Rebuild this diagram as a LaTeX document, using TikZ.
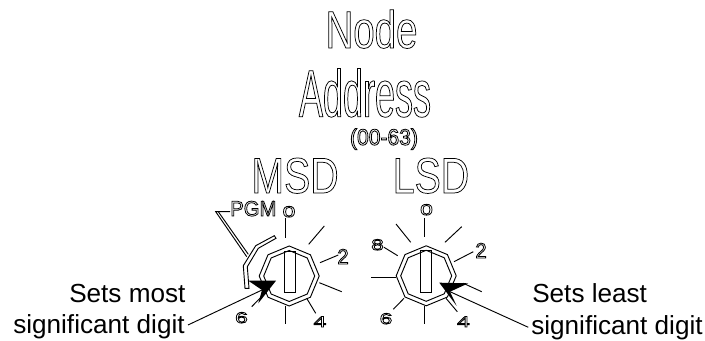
\documentclass[tikz,border=0pt]{standalone}
\usepackage{fontspec}
\setmainfont{Liberation Sans}
\newfontfamily\nodefont[FakeStretch=0.73]{Liberation Sans}
\newfontfamily\addrfont[FakeStretch=0.54]{Liberation Sans}
\newfontfamily\msdfont[FakeStretch=0.78]{Liberation Sans}
\newfontfamily\rangefont[FakeStretch=0.93]{Liberation Sans}
\newfontfamily\widefont[FakeStretch=1.5]{Liberation Sans}
\newfontfamily\tallfont[FakeStretch=0.95]{Liberation Sans}
\newcommand{\outlined}[1]{\special{pdf:code 1 Tr 0.55 w}#1\special{pdf:code 0 Tr}}
\newcommand{\outlinedthin}[1]{\special{pdf:code 1 Tr 0.6 w}#1\special{pdf:code 0 Tr}}
\tikzset{
  px/.style={x=0.75pt,y=-0.75pt},
  txt/.style={inner sep=0,anchor=base},
  nodetitle/.style={txt,font=\nodefont\fontsize{39.5}{39.5}\selectfont},
  addrtitle/.style={txt,font=\addrfont\fontsize{50}{50}\selectfont},
  msdtitle/.style={txt,font=\msdfont\fontsize{37.7}{37.7}\selectfont},
  rangetext/.style={txt,font=\rangefont\fontsize{17}{17}\selectfont},
  caption/.style={inner sep=0,anchor=base west,font=\fontsize{19.6}{19.6}\selectfont},
  pgmlabel/.style={inner sep=0,anchor=base west,font=\tallfont\fontsize{16}{16}\selectfont},
  digitwide/.style={txt,font=\widefont\fontsize{11.5}{11.5}\selectfont},
  digittall/.style={txt,font=\tallfont\fontsize{16}{16}\selectfont},
  tickline/.style={draw,line width=0.7pt},
  ring/.style={draw,line width=0.7pt},
  lead/.style={draw,line width=0.7pt},
  dart/.style={fill=black,draw=none}
}
\begin{document}
\begin{tikzpicture}[px,line join=miter]
\path[use as bounding box] (0,0) rectangle (705,341);
\fill[white] (0,0) rectangle (705,341);
% titles
\node[nodetitle] (tnode) at (371.5,48) {\outlined{Node}};
\node[addrtitle] (taddr) at (365,116.7) {\outlined{Address}};
\node[rangetext] (trange) at (384,145) {\outlinedthin{(00-63)}};
\node[msdtitle] (tmsd) at (295,193) {\outlined{MSD}};
\node[msdtitle] (tlsd) at (431,193) {\outlined{LSD}};
% PGM
\draw[ring] (245,288.3) -- (243.3,265.7) -- (255.7,245.7) -- (274.3,235.7) -- (276,238.3) -- (258.3,248.3) -- (247.3,266.7) -- (249,288.3) -- cycle;
\node[pgmlabel] (pgm) at (230,216) {\outlinedthin{PGM}};
\coordinate (pa) at (215.7,211.7);
\coordinate (pb) at (218.3,211.7);
\coordinate (pe) at (230,211.7);
\coordinate (pc) at (246.7,256.7);
\coordinate (pd) at (248.3,254.3);
\draw[lead] (pe) -- (pa) -- (pc);
\draw[lead] (pb) -- (pd);
% dial rings
\foreach \cx/\cy in {289.2/276,426.2/275.8}{
  \begin{scope}[shift={(\cx,\cy)}]
    \foreach \r in {30,25.5}{
      \draw[ring] (0:\r) -- (45:\r) -- (90:\r) -- (135:\r) -- (180:\r) -- (225:\r) -- (270:\r) -- (315:\r) -- cycle;
    }
  \end{scope}
}
% slots
\draw[ring] (284,251.5) rectangle (295,292);
\draw[ring] (420,250.5) rectangle (431.5,292);
% left ticks
\draw[tickline] (285,218.3) -- (285,237.7);
\draw[tickline] (308.7,244.3) -- (324.3,226);
\draw[tickline] (320,262.7) -- (338.3,255);
\draw[tickline] (319.3,282.7) -- (341.7,291.7);
\draw[tickline] (306.7,298.3) -- (315.7,313.3);
\draw[tickline] (285,305.7) -- (285,324.3);
\draw[tickline] (267,291) -- (251.7,306.7);
% right ticks
\draw[tickline] (424.7,218.3) -- (424.7,236.7);
\draw[tickline] (445,242.3) -- (461.7,226.7);
\draw[tickline] (454,261.7) -- (473.3,251.7);
\draw[tickline] (463.3,283.3) -- (481.7,291.7);
\draw[tickline] (446,298.3) -- (457.3,311.7);
\draw[tickline] (424.7,306) -- (424.7,324.3);
\draw[tickline] (404,298.3) -- (393.3,309.3);
\draw[tickline] (395.7,277) -- (371,277);
\draw[tickline] (397.7,255.7) -- (384,247.3);
\draw[tickline] (410.7,242.3) -- (396,224);
% digits
\node[digitwide] (l0) at (289,217) {\outlinedthin{0}};
\node[digittall] (l2) at (343,264) {\outlinedthin{2}};
\node[digitwide] (l4) at (320,327) {\outlinedthin{4}};
\node[digitwide] (l6) at (241.5,323) {\outlinedthin{6}};
\node[digitwide] (r0) at (426.5,215) {\outlinedthin{0}};
\node[digitwide] (r8) at (377.5,250) {\outlinedthin{8}};
\node[digittall] (r2) at (481,258) {\outlinedthin{2}};
\node[digitwide] (r6) at (386,324) {\outlinedthin{6}};
\node[digitwide] (r4) at (463.5,327) {\outlinedthin{4}};
% captions
\node[caption] (c1a) at (69,302) {Sets most};
\node[caption] (c1b) at (13,333) {significant digit};
\node[caption] (c2a) at (532,303) {Sets least};
\node[caption] (c2b) at (531,334) {significant digit};
% arrows
\coordinate (ltip) at (276,280.7);
\coordinate (lnotch) at (262,290);
\coordinate (lend) at (188,325);
\coordinate (rtip) at (439.3,282.7);
\coordinate (rnotch) at (450,291.7);
\coordinate (rend) at (528.3,327.3);
\draw[lead] (lend) -- (lnotch);
\draw[lead] (rend) -- (rnotch);
\fill[dart] (ltip) -- (248.3,280.7) -- (lnotch) -- (258.3,303.3) -- cycle;
\fill[dart] (rtip) -- (468.3,283.3) -- (rnotch) -- (456.7,306) -- cycle;
\end{tikzpicture}
\end{document}
